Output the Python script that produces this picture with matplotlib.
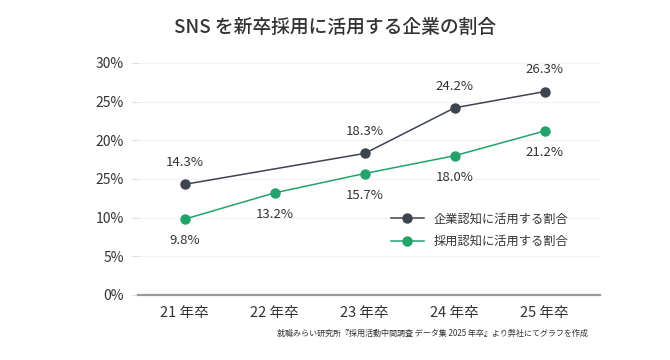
import matplotlib.pyplot as plt

plt.rcParams['font.family'] = ['Noto Sans CJK JP', 'DejaVu Sans']

categories = ['21 年卒', '22 年卒', '23 年卒', '24 年卒', '25 年卒']
company_x = [0, 2, 3, 4]
company_y = [14.3, 18.3, 24.2, 26.3]
recruit_vals = [9.8, 13.2, 15.7, 18.0, 21.2]
ytick_vals = [0, 5, 10, 15, 20, 25, 30]
ytick_labels = ['0%', '5%', '10%', '25%', '20%', '25%', '30%']

dark = '#3d4450'
green = '#22a36c'
text_col = '#333333'

fig = plt.figure(figsize=(6.7, 3.6), dpi=100)
ax = fig.add_axes([0.206, 0.181, 0.69, 0.644])

ax.plot(company_x, company_y, color=dark, lw=1.1, marker='o', ms=6.5,
        label='企業認知に活用する割合')
ax.plot(range(len(recruit_vals)), recruit_vals, color=green, lw=1.1,
        marker='o', ms=6.5, label='採用認知に活用する割合')

for x, y in zip(company_x, company_y):
    ax.annotate(f'{y:.1f}%', (x, y), xytext=(0, 11), textcoords='offset points',
                ha='center', va='bottom', fontsize=9.5, color=text_col)
for x, y in enumerate(recruit_vals):
    ax.annotate(f'{y:.1f}%', (x, y), xytext=(0, -11), textcoords='offset points',
                ha='center', va='top', fontsize=9.5, color=text_col)

ax.set_xlim(-0.52, 4.62)
ax.set_ylim(0, 30)
ax.set_xticks(range(len(categories)))
ax.set_xticklabels(categories, fontsize=10.5, color=text_col)
ax.set_yticks(ytick_vals)
ax.set_yticklabels(ytick_labels, fontsize=10, color=text_col)
ax.tick_params(axis='x', length=0, pad=8)
ax.tick_params(axis='y', length=4, color='#dddddd', pad=6)
ax.grid(axis='y', color='#f2f2f2', lw=0.8)
ax.set_axisbelow(True)
for s in ['top', 'right', 'left']:
    ax.spines[s].set_visible(False)
ax.spines['bottom'].set_color('#999999')
ax.spines['bottom'].set_linewidth(1.6)

leg = ax.legend(loc='lower right', bbox_to_anchor=(0.955, 0.155), frameon=False,
                fontsize=8.8, handlelength=2.7, labelspacing=0.75)
for t in leg.get_texts():
    t.set_color(text_col)

fig.text(0.5, 0.925, 'SNS を新卒採用に活用する企業の割合', ha='center', va='center',
         fontsize=13.5, fontweight='medium', color=text_col)
fig.text(0.878, 0.075, '就職みらい研究所『採用活動中間調査 データ集 2025 年卒』より弊社にてグラフを作成',
         ha='right', va='center', fontsize=5.8, color=text_col)

fig.savefig('out.png', dpi=100)
